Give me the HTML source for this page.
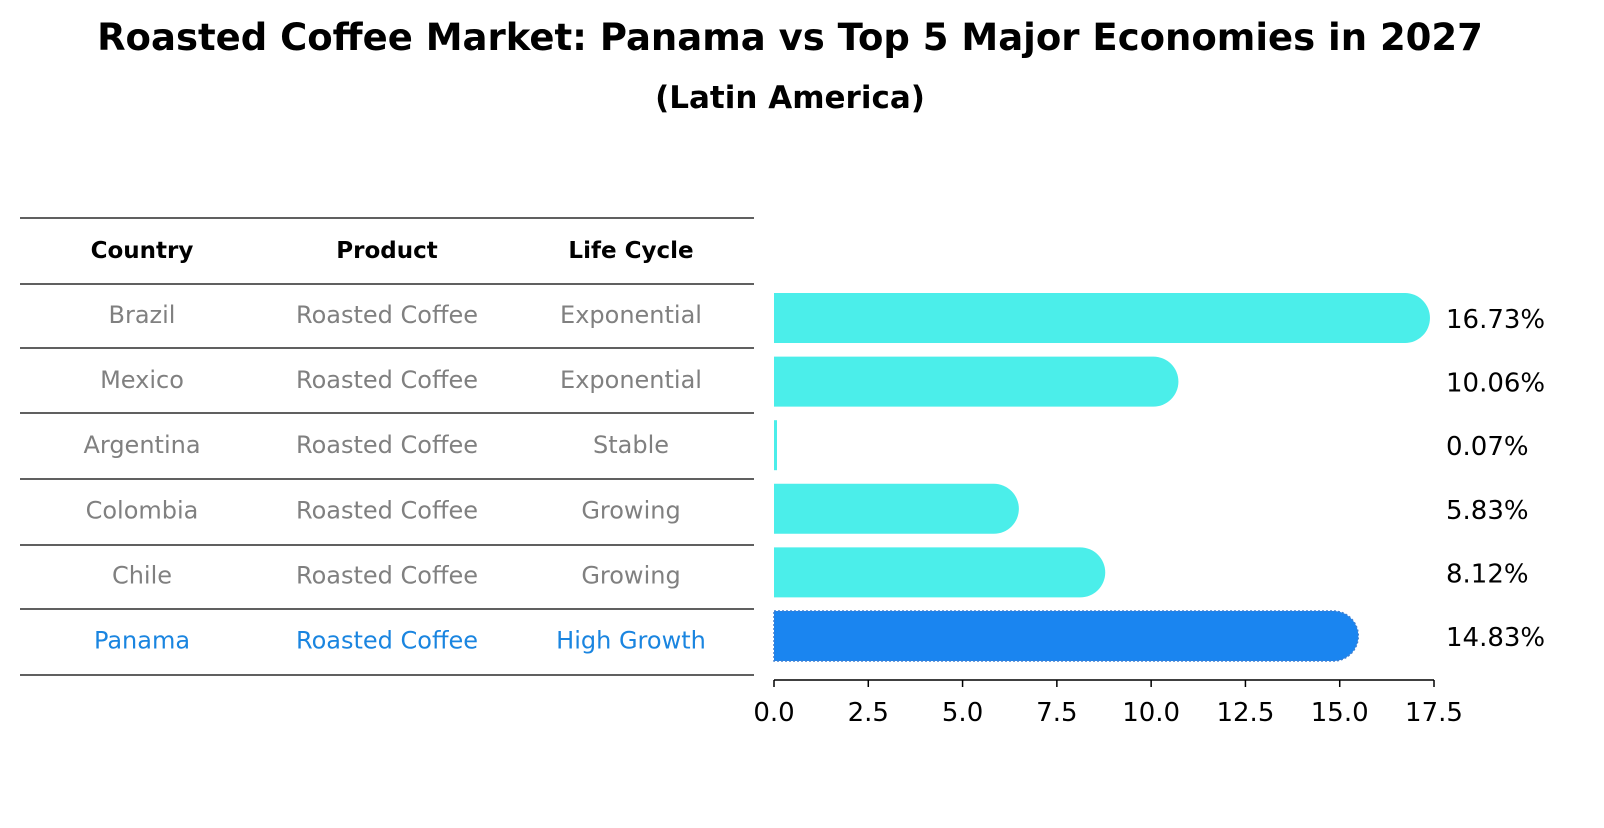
<!DOCTYPE html>
<html><head><meta charset="utf-8"><style>
body{margin:0;background:#fff;font-family:"Liberation Sans","DejaVu Sans",sans-serif}
</style></head><body>
<svg width="1604" height="823" xmlns="http://www.w3.org/2000/svg" font-family="DejaVu Sans, Liberation Sans, sans-serif">
<text x="790" y="50" text-anchor="middle" font-size="37" font-weight="bold">Roasted Coffee Market: Panama vs Top 5 Major Economies in 2027</text>
<text x="790" y="108" text-anchor="middle" font-size="31" font-weight="bold">(Latin America)</text>
<g id="table"></g>
<g id="bars"></g>
<g id="axis"></g>
</svg>
<script>
const countries=["Brazil","Mexico","Argentina","Colombia","Chile","Panama"];
const products=["Roasted Coffee","Roasted Coffee","Roasted Coffee","Roasted Coffee","Roasted Coffee","Roasted Coffee"];
const lifeCycles=["Exponential","Exponential","Stable","Growing","Growing","High Growth"];
const values=[16.73,10.06,0.07,5.83,8.12,14.83];
const ticks=[0,2.5,5,7.5,10,12.5,15,17.5];
const NS="http://www.w3.org/2000/svg";
const x0=774,xMax=17.5,xPx=660;
const xs=v=>x0+v/xMax*xPx;
const ys=i=>318+i*63.6;
function mk(tag,attrs,parent,txt){const e=document.createElementNS(NS,tag);for(const k in attrs)e.setAttribute(k,attrs[k]);if(txt!=null)e.textContent=txt;parent.appendChild(e);return e;}
const tbl=document.getElementById('table');
const lineYs=[218,284,348,413,479,545,609,675];
lineYs.forEach(y=>{const l=mk('line',{x1:20,x2:754,y1:y,y2:y,stroke:'#000','stroke-width':1.2},tbl);

});
const colX=[142,387,631];
["Country","Product","Life Cycle"].forEach((h,j)=>{const t=mk('text',{x:colX[j],y:258,'text-anchor':'middle','font-size':23,'font-weight':'bold'},tbl,h);

});
countries.forEach((c,i)=>{const y=323+i*65.1;const col=i===5?'#1a85e0':'#808080';
[c,products[i],lifeCycles[i]].forEach((v,j)=>{const t=mk('text',{x:colX[j],y:y,'text-anchor':'middle','font-size':24,fill:col},tbl,v);

});});
const bars=document.getElementById('bars');
values.forEach((v,i)=>{const cy=ys(i),h=50,xe=xs(v);const hl=i===5;const col=hl?'#1a85f0':'#4beeea';
let d;
if(v>0.5){const r=25;d=`M${x0},${cy-h/2} L${xe},${cy-h/2} A${r},${r} 0 0 1 ${xe},${cy+h/2} L${x0},${cy+h/2} Z`;}
else{d=`M${x0},${cy-h/2} L${Math.max(xe,x0+3)},${cy-h/2} L${Math.max(xe,x0+3)},${cy+h/2} L${x0},${cy+h/2} Z`;}
const p=mk('path',{d:d,fill:col},bars);
if(hl){p.setAttribute('stroke','#3f7fd0');p.setAttribute('stroke-dasharray','2,2');p.setAttribute('stroke-width','1.5');}


const t=mk('text',{x:1446,y:cy+10,'font-size':26},bars,v.toFixed(2)+'%');

});
const ax=document.getElementById('axis');
mk('line',{x1:x0,x2:xs(17.5),y1:680,y2:680,stroke:'#000','stroke-width':1.5},ax);
ticks.forEach(t=>{const x=xs(t);mk('line',{x1:x,x2:x,y1:680,y2:687,stroke:'#000','stroke-width':1.5},ax);
const tx=mk('text',{x:x,y:721,'text-anchor':'middle','font-size':26},ax,t.toFixed(1));

});
</script>
</body></html>
